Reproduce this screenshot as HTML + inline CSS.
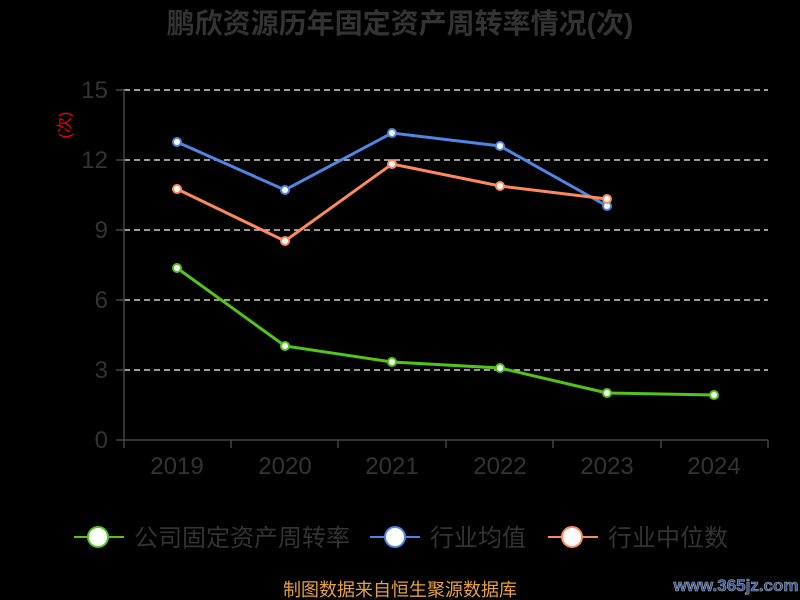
<!DOCTYPE html>
<html><head><meta charset="utf-8"><style>
body{margin:0;background:#000;}
svg{display:block;font-family:"Liberation Sans","Noto Sans CJK SC",sans-serif;}
</style></head><body>
<svg width="800" height="600" viewBox="0 0 800 600">
<rect width="800" height="600" fill="#000"/>
<text x="400" y="33" text-anchor="middle" font-size="28" font-weight="bold" fill="#333">鹏欣资源历年固定资产周转率情况(次)</text>
<g stroke="#ccc" stroke-dasharray="6,4" stroke-width="1.5">
<line x1="124" x2="768" y1="90" y2="90"/><line x1="124" x2="768" y1="160" y2="160"/>
<line x1="124" x2="768" y1="230" y2="230"/><line x1="124" x2="768" y1="300" y2="300"/>
<line x1="124" x2="768" y1="370" y2="370"/>
</g>
<g stroke="#444" stroke-width="1.5">
<line x1="124" x2="124" y1="90" y2="440"/><line x1="124" x2="768" y1="440" y2="440"/>
<line x1="116" x2="124" y1="90" y2="90"/><line x1="116" x2="124" y1="160" y2="160"/><line x1="116" x2="124" y1="230" y2="230"/><line x1="116" x2="124" y1="300" y2="300"/><line x1="116" x2="124" y1="370" y2="370"/><line x1="116" x2="124" y1="440" y2="440"/>
<line x1="124" x2="124" y1="440" y2="448"/><line x1="231" x2="231" y1="440" y2="448"/><line x1="338" x2="338" y1="440" y2="448"/><line x1="446" x2="446" y1="440" y2="448"/><line x1="553" x2="553" y1="440" y2="448"/><line x1="661" x2="661" y1="440" y2="448"/><line x1="768" x2="768" y1="440" y2="448"/>
</g>
<g fill="#333" font-size="24" text-anchor="end">
<text x="108" y="98">15</text><text x="108" y="168">12</text><text x="108" y="238">9</text><text x="108" y="308">6</text><text x="108" y="378">3</text><text x="108" y="448">0</text>
</g>
<g fill="#333" font-size="24" text-anchor="middle">
<text x="177" y="474">2019</text><text x="285" y="474">2020</text><text x="392" y="474">2021</text><text x="500" y="474">2022</text><text x="607" y="474">2023</text><text x="714" y="474">2024</text>
</g>
<text x="0" y="0" transform="translate(70,125) rotate(-90)" text-anchor="middle" font-size="16" fill="#e00">(次)</text>
<g fill="#fff" stroke-width="2">
<polyline fill="none" stroke="#4e86e4" stroke-width="3" points="177,142 285,190 392,133 500,146 607,206"/>
<polyline fill="none" stroke="#fd8a5c" stroke-width="3" points="177,189 285,241 392,164 500,186 607,199"/>
<polyline fill="none" stroke="#52c41a" stroke-width="3" points="177,268 285,346 392,362 500,368 607,393 714,395"/>
<g stroke="#4e86e4"><circle cx="177" cy="142" r="4"/><circle cx="285" cy="190" r="4"/><circle cx="392" cy="133" r="4"/><circle cx="500" cy="146" r="4"/><circle cx="607" cy="206" r="4"/></g>
<g stroke="#fd8a5c"><circle cx="177" cy="189" r="4"/><circle cx="285" cy="241" r="4"/><circle cx="392" cy="164" r="4"/><circle cx="500" cy="186" r="4"/><circle cx="607" cy="199" r="4"/></g>
<g stroke="#52c41a"><circle cx="177" cy="268" r="4"/><circle cx="285" cy="346" r="4"/><circle cx="392" cy="362" r="4"/><circle cx="500" cy="368" r="4"/><circle cx="607" cy="393" r="4"/><circle cx="714" cy="395" r="4"/></g>
</g>
<g font-size="24" fill="#333">
<line x1="74" x2="124" y1="537" y2="537" stroke="#52c41a" stroke-width="2"/><circle cx="98" cy="537" r="10" fill="#fff" stroke="#52c41a" stroke-width="2"/>
<text x="134" y="546">公司固定资产周转率</text>
<line x1="370" x2="420" y1="537" y2="537" stroke="#4e86e4" stroke-width="2"/><circle cx="395" cy="537" r="10" fill="#fff" stroke="#4e86e4" stroke-width="2"/>
<text x="430" y="546">行业均值</text>
<line x1="548" x2="598" y1="537" y2="537" stroke="#fd8a5c" stroke-width="2"/><circle cx="572" cy="537" r="10" fill="#fff" stroke="#fd8a5c" stroke-width="2"/>
<text x="608" y="546">行业中位数</text>
</g>
<text x="400" y="596" text-anchor="middle" font-size="18" fill="#e8a23a">制图数据来自恒生聚源数据库</text>
<text x="736" y="591" text-anchor="middle" font-size="17" font-weight="bold" fill="#2a4f9a" stroke="#aaa" stroke-width="0.6">www.365jz.com</text>
</svg>
</body></html>
